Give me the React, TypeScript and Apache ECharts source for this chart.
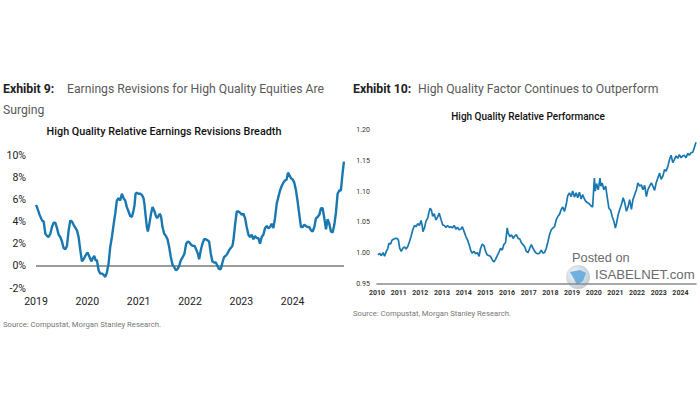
import React, { useEffect, useRef } from "react";
import * as echarts from "echarts";

// Exhibit 9: High Quality Relative Earnings Revisions Breadth (%)
const revYears: number[] = [
  2019.0, 2019.019, 2019.071, 2019.117, 2019.149, 2019.182, 2019.214, 2019.246, 2019.279, 2019.311,
  2019.344, 2019.376, 2019.409, 2019.441, 2019.473, 2019.506, 2019.538, 2019.571, 2019.603, 2019.636,
  2019.668, 2019.7, 2019.733, 2019.798, 2019.83, 2019.863, 2019.895, 2019.927, 2019.96, 2020.005,
  2020.044, 2020.077, 2020.109, 2020.135, 2020.161, 2020.187, 2020.219, 2020.252, 2020.284, 2020.316,
  2020.349, 2020.381, 2020.414, 2020.446, 2020.479, 2020.511, 2020.543, 2020.576, 2020.608, 2020.641,
  2020.673, 2020.706, 2020.738, 2020.77, 2020.803, 2020.835, 2020.868, 2020.9, 2020.92, 2020.939,
  2020.965, 2020.997, 2021.03, 2021.062, 2021.095, 2021.114, 2021.134, 2021.16, 2021.179, 2021.205,
  2021.237, 2021.27, 2021.302, 2021.335, 2021.361, 2021.387, 2021.412, 2021.438, 2021.464, 2021.497,
  2021.529, 2021.562, 2021.594, 2021.626, 2021.659, 2021.691, 2021.724, 2021.756, 2021.789, 2021.821,
  2021.86, 2021.892, 2021.925, 2021.957, 2021.99, 2022.022, 2022.054, 2022.087, 2022.119, 2022.152,
  2022.178, 2022.21, 2022.243, 2022.275, 2022.307, 2022.34, 2022.372, 2022.405, 2022.437, 2022.47,
  2022.502, 2022.534, 2022.567, 2022.599, 2022.632, 2022.664, 2022.696, 2022.729, 2022.761, 2022.794,
  2022.826, 2022.846, 2022.878, 2022.911, 2022.943, 2022.975, 2023.008, 2023.04, 2023.073, 2023.105,
  2023.138, 2023.17, 2023.202, 2023.235, 2023.267, 2023.3, 2023.332, 2023.364, 2023.397, 2023.429,
  2023.462, 2023.494, 2023.527, 2023.559, 2023.591, 2023.624, 2023.656, 2023.689, 2023.721, 2023.754,
  2023.786, 2023.818, 2023.851, 2023.883, 2023.909, 2023.935, 2023.968, 2024.0, 2024.032, 2024.065,
  2024.097, 2024.13, 2024.162, 2024.195, 2024.227, 2024.259, 2024.292, 2024.324, 2024.357, 2024.389,
  2024.422, 2024.454, 2024.486, 2024.519, 2024.551, 2024.584, 2024.616, 2024.649, 2024.681, 2024.713,
  2024.746, 2024.778, 2024.811, 2024.843, 2024.875, 2024.908, 2024.94, 2024.973, 2024.999,
];
const revValues: number[] = [
  5.5, 5.3, 4.6, 4.1, 4.0, 2.9, 2.7, 2.6, 2.9, 3.5,
  3.9, 3.9, 3.4, 2.8, 2.6, 2.2, 1.6, 1.5, 1.8, 3.2,
  4.1, 4.0, 3.7, 3.2, 2.6, 1.4, 0.4, 0.6, 0.9, 1.2,
  0.8, 0.4, 0.7, 0.9, 0.5, 0.5, -0.4, -0.7, -0.7, -0.8,
  -1.0, -0.6, 0.2, 1.7, 2.6, 3.7, 4.7, 5.9, 6.1, 5.9,
  6.5, 6.1, 5.9, 5.3, 4.9, 4.5, 4.4, 5.0, 5.5, 6.5,
  6.6, 6.5, 6.5, 6.4, 6.1, 5.5, 4.6, 3.5, 3.1, 3.7,
  4.6, 5.3, 5.0, 4.5, 4.3, 4.5, 4.7, 4.4, 3.5, 2.9,
  2.7, 2.4, 1.7, 0.8, 0.1, -0.1, -0.4, -0.3, 0.0, 0.5,
  0.8, 1.1, 2.0, 2.2, 2.1, 1.9, 1.8, 1.8, 1.5, 1.1,
  0.6, 1.4, 2.0, 2.4, 2.4, 2.3, 2.2, 1.1, 0.4, 0.3,
  0.3, 0.0, -0.3, -0.3, 0.3, 0.8, 0.9, 1.1, 1.4, 1.6,
  1.8, 2.3, 3.7, 4.9, 4.9, 4.8, 4.6, 4.7, 4.3, 3.5,
  2.8, 2.6, 2.8, 2.4, 2.7, 2.5, 2.5, 2.0, 2.6, 2.8,
  3.4, 3.6, 3.4, 3.5, 3.8, 3.4, 4.3, 5.6, 6.2, 6.8,
  7.2, 7.5, 7.7, 7.8, 8.4, 8.2, 7.9, 7.8, 7.5, 6.8,
  5.8, 4.6, 3.5, 3.5, 3.7, 3.6, 3.5, 3.5, 3.2, 3.1,
  3.5, 4.3, 4.4, 4.6, 5.2, 5.2, 4.3, 3.3, 4.2, 3.8,
  3.1, 3.0, 3.7, 4.8, 6.5, 6.8, 6.8, 8.4, 9.4,
];
const revYTicks = { min: -2, max: 10, step: 2 };
const revXTicks = { min: 2019, max: 2025, step: 1 };

// Exhibit 10: High Quality Relative Performance
const perfYears: number[] = [
  2010.05, 2010.12, 2010.2, 2010.28, 2010.35, 2010.43, 2010.5, 2010.55, 2010.63, 2010.69,
  2010.78, 2010.86, 2010.93, 2010.99, 2011.05, 2011.12, 2011.19, 2011.27, 2011.34, 2011.42,
  2011.5, 2011.57, 2011.65, 2011.73, 2011.8, 2011.88, 2011.96, 2012.03, 2012.08, 2012.12,
  2012.19, 2012.26, 2012.34, 2012.38, 2012.45, 2012.51, 2012.57, 2012.64, 2012.72, 2012.8,
  2012.87, 2012.95, 2013.03, 2013.1, 2013.18, 2013.26, 2013.33, 2013.41, 2013.48, 2013.56,
  2013.64, 2013.71, 2013.79, 2013.87, 2013.94, 2014.02, 2014.1, 2014.17, 2014.25, 2014.33,
  2014.4, 2014.48, 2014.55, 2014.63, 2014.71, 2014.78, 2014.86, 2014.94, 2015.01, 2015.09,
  2015.17, 2015.24, 2015.32, 2015.4, 2015.47, 2015.55, 2015.62, 2015.7, 2015.78, 2015.85,
  2015.93, 2016.01, 2016.05, 2016.13, 2016.21, 2016.28, 2016.36, 2016.43, 2016.51, 2016.59,
  2016.66, 2016.74, 2016.82, 2016.89, 2016.97, 2017.05, 2017.12, 2017.2, 2017.28, 2017.35,
  2017.43, 2017.5, 2017.58, 2017.66, 2017.73, 2017.81, 2017.89, 2017.96, 2018.04, 2018.12,
  2018.19, 2018.27, 2018.35, 2018.42, 2018.5, 2018.57, 2018.65, 2018.73, 2018.8, 2018.88,
  2018.96, 2019.03, 2019.11, 2019.19, 2019.26, 2019.34, 2019.42, 2019.49, 2019.57, 2019.64,
  2019.72, 2019.8, 2019.87, 2019.95, 2020.03, 2020.07, 2020.13, 2020.21, 2020.29, 2020.33,
  2020.39, 2020.47, 2020.55, 2020.62, 2020.7, 2020.78, 2020.85, 2020.93, 2021.0, 2021.05,
  2021.13, 2021.2, 2021.28, 2021.36, 2021.43, 2021.51, 2021.59, 2021.66, 2021.74, 2021.81,
  2021.89, 2021.97, 2022.04, 2022.12, 2022.2, 2022.27, 2022.35, 2022.43, 2022.5, 2022.58,
  2022.66, 2022.73, 2022.81, 2022.88, 2022.96, 2023.04, 2023.11, 2023.19, 2023.27, 2023.34,
  2023.42, 2023.5, 2023.57, 2023.65, 2023.72, 2023.8, 2023.88, 2023.95, 2024.03, 2024.11,
  2024.18, 2024.26, 2024.34, 2024.41, 2024.49, 2024.57, 2024.64, 2024.72,
];
const perfValues: number[] = [
  0.997, 1.0, 0.996, 1.001, 0.995, 1.003, 1.008, 1.016, 1.015, 1.021,
  1.023, 1.024, 1.024, 1.021, 1.008, 1.003, 1.008, 1.01, 1.007, 1.011,
  1.019, 1.027, 1.038, 1.045, 1.043, 1.048, 1.045, 1.053, 1.046, 1.035,
  1.041, 1.052, 1.057, 1.064, 1.073, 1.07, 1.06, 1.064, 1.054, 1.059,
  1.065, 1.055, 1.046, 1.045, 1.042, 1.045, 1.042, 1.043, 1.041, 1.045,
  1.039, 1.042, 1.038, 1.039, 1.043, 1.035, 1.027, 1.022, 1.014, 1.004,
  1.0, 1.003, 0.999, 1.001, 0.995, 1.008, 1.015, 1.012, 1.003, 0.997,
  0.996, 0.995, 0.989, 0.986, 0.99, 0.996, 1.001, 1.008, 1.005, 1.014,
  1.017, 1.041, 1.033, 1.027, 1.03, 1.024, 1.028, 1.03, 1.024, 1.023,
  1.017, 1.014, 1.01, 1.003, 1.001, 1.008, 1.014, 1.008, 1.003, 1.0,
  0.999, 1.0, 1.005, 1.0, 1.001, 1.008, 1.019, 1.03, 1.038, 1.041,
  1.043, 1.054, 1.06, 1.063, 1.071, 1.075, 1.068, 1.079, 1.093, 1.098,
  1.092, 1.101, 1.091, 1.098, 1.09, 1.099, 1.088, 1.095, 1.088, 1.084,
  1.082, 1.08, 1.077, 1.075, 1.122, 1.101, 1.113, 1.103, 1.122, 1.109,
  1.114, 1.103, 1.109, 1.092, 1.073, 1.07, 1.06, 1.052, 1.041, 1.048,
  1.063, 1.071, 1.079, 1.09, 1.082, 1.068, 1.076, 1.087, 1.071, 1.087,
  1.095, 1.103, 1.114, 1.109, 1.111, 1.103, 1.11, 1.092, 1.103, 1.109,
  1.114, 1.109, 1.102, 1.114, 1.122, 1.13, 1.12, 1.125, 1.136, 1.133,
  1.141, 1.152, 1.159, 1.147, 1.152, 1.158, 1.154, 1.16, 1.155, 1.158,
  1.159, 1.155, 1.162, 1.159, 1.163, 1.164, 1.171, 1.18,
];
const perfYTicks = { min: 0.95, max: 1.2, step: 0.05 };
const perfXTicks = { min: 2010, max: 2024.72, step: 1 };

const LINE = "#1a78b0";
const FONT = "Roboto, 'Noto Sans', Arial, sans-serif";

export default function App() {
  const ref = useRef<HTMLDivElement>(null);
  useEffect(() => {
    if (!ref.current) return;
    const chart = echarts.init(ref.current, undefined, { renderer: "svg" });
    const revData = revYears.map((t, i) => [t, revValues[i]]);
    const perfData = perfYears.map((t, i) => [t, perfValues[i]]);
    const txt = (text: string, x: number, y: number, size: number, color: string, weight: any = "normal", align = "left", family = FONT) => ({
      type: "text",
      x,
      y,
      silent: true,
      style: { text, fontSize: size, fontWeight: weight, fontFamily: family, fill: color, align, verticalAlign: "middle" },
    });
    chart.setOption({
      animation: false,
      backgroundColor: "#ffffff",
      grid: [
        { left: 36, top: 155, width: 308, height: 133 },
        { left: 377, top: 130, width: 319, height: 154 },
      ],
      xAxis: [
        {
          gridIndex: 0,
          type: "value",
          min: revXTicks.min,
          max: revXTicks.max,
          interval: revXTicks.step,
          axisLine: { show: false },
          axisTick: { show: false },
          splitLine: { show: false },
          axisLabel: {
            margin: 8,
            fontSize: 10.5,
            color: "#222",
            fontFamily: FONT,
            formatter: (v: number) => (Number.isInteger(v) && v < 2025 ? String(v) : ""),
          },
        },
        {
          gridIndex: 1,
          type: "value",
          min: perfXTicks.min,
          max: perfXTicks.max,
          interval: perfXTicks.step,
          axisLine: { show: true, lineStyle: { color: "#8a8a8a", width: 1.5 } },
          axisTick: { show: false },
          splitLine: { show: false },
          axisLabel: {
            margin: 5,
            fontSize: 7,
            fontWeight: "bold",
            color: "#333",
            fontFamily: FONT,
            formatter: (v: number) => (Math.abs(v - Math.round(v)) < 1e-6 ? String(Math.round(v)) : ""),
          },
        },
      ],
      yAxis: [
        {
          gridIndex: 0,
          type: "value",
          min: revYTicks.min,
          max: revYTicks.max,
          interval: revYTicks.step,
          axisLine: { show: false },
          axisTick: { show: false },
          splitLine: { show: false },
          axisLabel: { margin: 10, fontSize: 10.5, color: "#222", fontFamily: FONT, formatter: (v: number) => `${v}%` },
        },
        {
          gridIndex: 1,
          type: "value",
          min: perfYTicks.min,
          max: perfYTicks.max,
          interval: perfYTicks.step,
          axisLine: { show: false },
          axisTick: { show: false },
          splitLine: { show: false },
          axisLabel: { margin: 7, fontSize: 7, color: "#333", fontFamily: FONT, formatter: (v: number) => v.toFixed(2) },
        },
      ],
      series: [
        {
          type: "line",
          xAxisIndex: 0,
          yAxisIndex: 0,
          data: revData,
          showSymbol: false,
          smooth: false,
          lineStyle: { color: LINE, width: 2.4 },
          z: 3,
          markLine: {
            silent: true,
            symbol: "none",
            label: { show: false },
            lineStyle: { color: "#7a7a7a", width: 1.5, type: "solid" },
            data: [{ yAxis: 0 }],
            z: 2,
          },
        },
        {
          type: "line",
          xAxisIndex: 1,
          yAxisIndex: 1,
          data: perfData,
          showSymbol: false,
          lineStyle: { color: LINE, width: 1.7 },
        },
      ],
      graphic: [
        txt("Exhibit 9:", 3, 89, 12.3, "#222", "bold"),
        txt("Earnings Revisions for High Quality Equities Are", 67, 89, 12.2, "#5a5a5a"),
        txt("Surging", 3, 110, 12.2, "#5a5a5a"),
        txt("High Quality Relative Earnings Revisions Breadth", 164, 131, 10.8, "#111", 500, "center"),
        txt("Exhibit 10:", 353, 89, 12.3, "#222", "bold"),
        txt("High Quality Factor Continues to Outperform", 418, 89, 12.2, "#5a5a5a"),
        txt("High Quality Relative Performance", 528, 116, 10, "#111", 500, "center"),
        txt("Source: Compustat, Morgan Stanley Research.", 3, 324, 7.7, "#777"),
        txt("Source: Compustat, Morgan Stanley Research.", 353, 313, 7.7, "#777"),
        {
          type: "circle",
          silent: true,
          shape: { cx: 578, cy: 277, r: 12 },
          style: {
            fill: new echarts.graphic.RadialGradient(0.4, 0.4, 0.7, [
              { offset: 0, color: "#f4f7fa" },
              { offset: 1, color: "#b9c6d2" },
            ]),
          },
        },
        {
          type: "polygon",
          silent: true,
          shape: { points: [[570, 272], [580, 270], [586, 273], [583, 281], [577, 285], [574, 279]] },
          style: { fill: "#5aa6dc", opacity: 0.85 },
        },
        txt("Posted on", 572, 257, 12.8, "#6b6b6b", "normal", "left", "Arial, 'Liberation Sans', sans-serif"),
        txt("ISABELNET.com", 595, 274, 13.2, "#6b6b6b", "normal", "left", "Arial, 'Liberation Sans', sans-serif"),
      ],
    });
    return () => chart.dispose();
  }, []);
  return <div ref={ref} style={{ position: "fixed", left: 0, top: 0, width: 700, height: 410 }} />;
}
